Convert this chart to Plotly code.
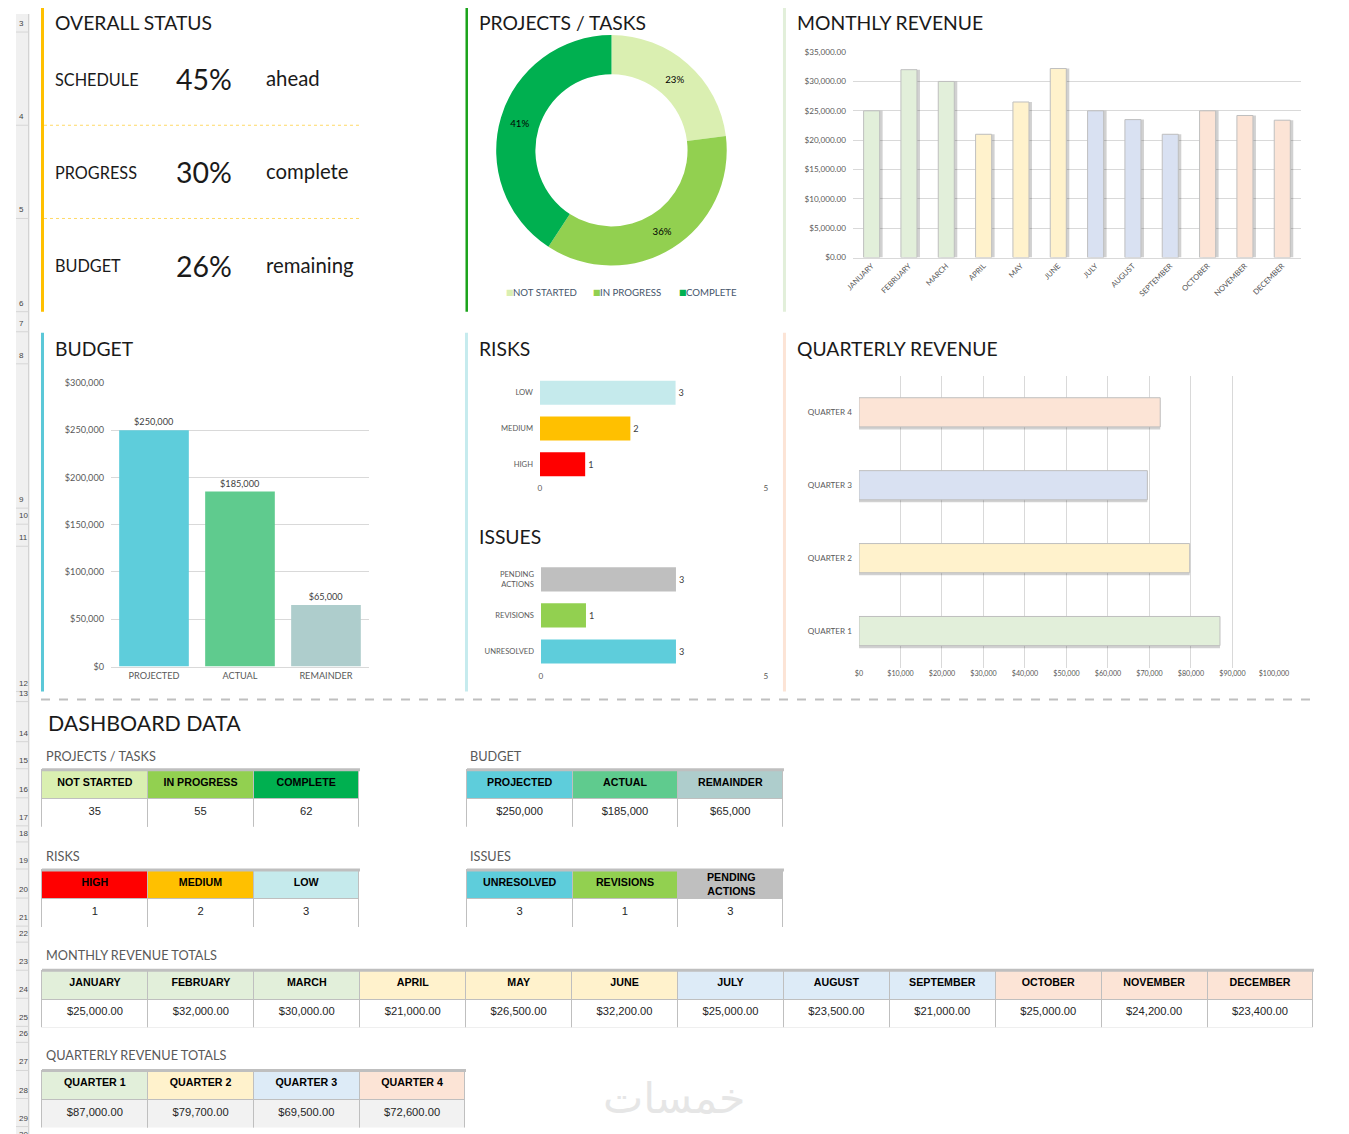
import plotly.graph_objects as go

W, H = 1349, 1134
# the page is photographed with a small offset and shrink; layout positions below
# are given in picture pixels and mapped back to figure space
AX, AY, SX, SY = 15.0, 14.0, 0.983, 0.988


def fx(x):
    return (x - AX) / SX / W


def fy(y):
    return 1 - (y - AY) / SY / H


def fs(size):
    return size / SX


# ---- data ----
status_labels = ["SCHEDULE", "PROGRESS", "BUDGET"]
status_values = ["45%", "30%", "26%"]
status_notes = ["ahead", "complete", "remaining"]

task_labels = ["NOT STARTED", "IN PROGRESS", "COMPLETE"]
task_counts = [35, 55, 62]

months = ["JANUARY", "FEBRUARY", "MARCH", "APRIL", "MAY", "JUNE",
          "JULY", "AUGUST", "SEPTEMBER", "OCTOBER", "NOVEMBER", "DECEMBER"]
month_revenue = [25000, 32000, 30000, 21000, 26500, 32200,
                 25000, 23500, 21000, 25000, 24200, 23400]

budget_labels = ["PROJECTED", "ACTUAL", "REMAINDER"]
budget_values = [250000, 185000, 65000]

risk_labels = ["HIGH", "MEDIUM", "LOW"]
risk_counts = [1, 2, 3]

issue_labels = ["UNRESOLVED", "REVISIONS", "PENDING ACTIONS"]
issue_counts = [3, 1, 3]

quarters = ["QUARTER 1", "QUARTER 2", "QUARTER 3", "QUARTER 4"]
quarter_revenue = [87000, 79700, 69500, 72600]

# ---- styles ----
task_colors = ["#DAEFB1", "#92D050", "#00B050"]
budget_colors = ["#5ECDDB", "#5FCB8E", "#AECDCC"]
risk_colors = ["#FF0000", "#FFC000", "#C5EAEC"]
issue_colors = ["#5ECDDB", "#92D050", "#BFBFBF"]
quarter_colors = ["#E2EFDA", "#FFF2CC", "#D9E1F2", "#FCE4D6"]
quarter_table_colors = ["#E2EFDA", "#FFF2CC", "#DDEBF7", "#FCE4D6"]
month_colors = [c for c in quarter_colors for _ in range(3)]
month_table_colors = [c for c in quarter_table_colors for _ in range(3)]

TITLE_FONT = "Lato"
TXT = "#1a1a1a"
TICK = "#595959"
GRID = "#D9D9D9"
SHADOW = "rgba(0,0,0,0.18)"

fig = go.Figure()

# monthly revenue
fig.add_trace(go.Bar(x=months, y=month_revenue, width=0.43, offset=-0.215 + 0.08,
                     marker=dict(color=SHADOW, line=dict(width=0)),
                     xaxis="x", yaxis="y", hoverinfo="skip", showlegend=False))
fig.add_trace(go.Bar(x=months, y=month_revenue, width=0.43,
                     marker=dict(color=month_colors, line=dict(color="#BFBFBF", width=1)),
                     xaxis="x", yaxis="y", showlegend=False))

# budget
fig.add_trace(go.Bar(x=budget_labels, y=budget_values, width=0.81,
                     marker=dict(color=budget_colors, line=dict(width=0)),
                     texttemplate="$%{y:,.0f}", textposition="outside",
                     textfont=dict(size=fs(9), color="#404040", family="Lato"),
                     cliponaxis=False, xaxis="x2", yaxis="y2", showlegend=False))

# risks
fig.add_trace(go.Bar(y=risk_labels, x=risk_counts, orientation="h", width=0.67,
                     marker=dict(color=risk_colors, line=dict(width=0)),
                     texttemplate="%{x}", textposition="outside",
                     textfont=dict(size=fs(9), color="#404040", family="Lato"),
                     cliponaxis=False, xaxis="x3", yaxis="y3", showlegend=False))

# issues
fig.add_trace(go.Bar(y=issue_labels, x=issue_counts, orientation="h", width=0.67,
                     marker=dict(color=issue_colors, line=dict(width=0)),
                     texttemplate="%{x}", textposition="outside",
                     textfont=dict(size=fs(9), color="#404040", family="Lato"),
                     cliponaxis=False, xaxis="x4", yaxis="y4", showlegend=False))

# quarterly revenue
fig.add_trace(go.Bar(y=quarters, x=quarter_revenue, orientation="h", width=0.4,
                     offset=-0.2 - 0.035,
                     marker=dict(color=SHADOW, line=dict(width=0)),
                     xaxis="x5", yaxis="y5", hoverinfo="skip", showlegend=False))
fig.add_trace(go.Bar(y=quarters, x=quarter_revenue, orientation="h", width=0.4,
                     marker=dict(color=quarter_colors, line=dict(color="#BFBFBF", width=1)),
                     xaxis="x5", yaxis="y5", showlegend=False))

# projects / tasks donut
fig.add_trace(go.Pie(labels=task_labels, values=task_counts, hole=0.66, sort=False,
                     direction="clockwise", rotation=0,
                     marker=dict(colors=task_colors, line=dict(width=0)),
                     texttemplate="%{percent:.0%}", textposition="inside",
                     insidetextorientation="horizontal",
                     textfont=dict(size=fs(9.5), color="#000000", family="Lato"),
                     domain=dict(x=[fx(495), fx(726)], y=[fy(265), fy(35)]),
                     showlegend=False))

# ---- tables ----
hdr_font = dict(family="Liberation Sans, Arial, sans-serif", size=fs(10.5),
                color="#000000", weight="bold")
cell_font = dict(family="Liberation Sans Narrow, Arial Narrow, sans-serif", size=fs(11),
                 color="#262626")
ann = []


def add_table(labels, values, fmt, hdr_colors, x0, x1, y0, y1, cell_bg="#FFFFFF"):
    n = len(labels)
    heads = []
    for i, lab in enumerate(labels):
        if lab == "PENDING ACTIONS":
            # two-line header would stretch the table row, so it is laid on top
            heads.append("")
            ann.append(dict(x=fx(x0 + (i + 0.5) * (x1 - x0) / n), y=fy(y0 + 14),
                            xref="paper", yref="paper", showarrow=False,
                            text=lab.replace(" ", "<br>"), xanchor="center",
                            yanchor="middle", font=dict(hdr_font, size=fs(10.5))))
        else:
            heads.append(lab)
    row_h = (y1 - y0) / 2 / SY
    fig.add_trace(go.Table(
        domain=dict(x=[fx(x0), fx(x1)], y=[fy(y1), fy(y0)]),
        header=dict(values=heads, fill_color=hdr_colors, line_color="#BFBFBF",
                    align="center", font=hdr_font, height=row_h),
        cells=dict(values=[[v] for v in values], format=[fmt] * n,
                   fill_color=cell_bg, line_color="#BFBFBF", align="center",
                   font=cell_font, height=row_h),
    ))
    fig.add_shape(type="line", xref="paper", yref="paper", x0=fx(x0), x1=fx(x1),
                  y0=fy(y0), y1=fy(y0), line=dict(color="#BFBFBF", width=3))


add_table(task_labels, task_counts, "", task_colors, 41, 359, 768, 825)
add_table(budget_labels, budget_values, "$,.0f", budget_colors, 466, 783, 768, 825)
add_table(risk_labels, risk_counts, "", risk_colors, 41, 359, 868, 925)
add_table(issue_labels, issue_counts, "", issue_colors, 466, 783, 868, 925)
add_table(months, month_revenue, "$,.2f", month_table_colors, 41, 1313, 968, 1025)
add_table(quarters, quarter_revenue, "$,.2f", quarter_table_colors, 41, 465, 1068, 1125,
          cell_bg="#F2F2F2")


# ---- annotations ----
def text(x, y, s, size, color=TXT, anchor="left", family=TITLE_FONT):
    ann.append(dict(x=fx(x), y=fy(y), xref="paper", yref="paper", text=s,
                    showarrow=False, xanchor=anchor, yanchor="middle",
                    font=dict(size=fs(size), color=color, family=family)))


for t, (x, y) in {"OVERALL STATUS": (52, 22), "PROJECTS / TASKS": (476, 22),
                  "MONTHLY REVENUE": (794, 22), "BUDGET": (52, 348),
                  "RISKS": (476, 348), "ISSUES": (476, 535),
                  "QUARTERLY REVENUE": (794, 348)}.items():
    text(x, y, t, 19)

for i, (lab, val, note) in enumerate(zip(status_labels, status_values, status_notes)):
    yy = 79 + i * 93
    text(52, yy, lab, 16)
    text(173, yy, val, 28)
    text(263, yy - 1, note, 20)

for lab, col, xs in zip(task_labels, task_colors, [503, 590, 676]):
    text(xs, 291, "■", 8, color=col, family="DejaVu Sans")
    text(xs + 7, 291, lab, 9.5, color="#44546A")

text(45, 721, "DASHBOARD DATA", 21)
for t, (x, y) in {"PROJECTS / TASKS": (43, 754), "BUDGET ": (467, 754),
                  "RISKS": (43, 854), "ISSUES": (467, 854),
                  "MONTHLY REVENUE TOTALS": (43, 953),
                  "QUARTERLY REVENUE TOTALS": (43, 1053)}.items():
    text(x, y, t.strip(), 12.5, color="#595959")

text(673, 1095, "خمسات", 42, color="#E6E6E6", anchor="center", family="DejaVu Sans")

# row header gutter (drawn at the figure's own left edge)
row_bottoms = {3: 32, 4: 125, 5: 218, 6: 311, 7: 331, 8: 363, 9: 507, 10: 523,
               11: 545, 12: 690, 13: 700, 14: 740, 15: 767, 16: 796, 17: 824,
               18: 840, 19: 867, 20: 896, 21: 924, 22: 940, 23: 968, 24: 996,
               25: 1024, 26: 1040, 27: 1068, 28: 1096, 29: 1124, 30: 1140}
GUT = 13 / W

shapes = [dict(type="rect", xref="paper", yref="paper", x0=0, x1=GUT, y0=0, y1=1,
               fillcolor="#F0F0F0", line=dict(width=0), layer="below"),
          dict(type="line", xref="paper", yref="paper", x0=GUT, x1=GUT, y0=0, y1=1,
               line=dict(color="#C8C8C8", width=1)),
          dict(type="rect", xref="paper", yref="paper", x0=fx(1341), x1=1, y0=0, y1=1,
               fillcolor="#F3F3F3", line=dict(width=0), layer="below")]
for r, b in row_bottoms.items():
    shapes.append(dict(type="line", xref="paper", yref="paper", x0=0, x1=GUT,
                       y0=fy(b), y1=fy(b), line=dict(color="#D6D6D6", width=1)))
    ann.append(dict(x=1 / W, y=fy(b - 2), xref="paper", yref="paper", text=str(r),
                    showarrow=False, xanchor="left", yanchor="bottom",
                    font=dict(size=8, color="#444444", family="Liberation Sans")))

# panel accent bars
for x0, x1, y0, y1, c in [(40, 43, -20, 311, "#FFC000"), (464.5, 467, -20, 311, "#1AA31A"),
                          (782, 785, -20, 311, "#E2EFDA"), (40, 43, 332, 690, "#5BC8D8"),
                          (464, 467, 332, 690, "#C6EBEE"), (782, 785, 332, 690, "#FCE4D6")]:
    shapes.append(dict(type="rect", xref="paper", yref="paper", x0=fx(x0), x1=fx(x1),
                       y0=fy(y1), y1=fy(y0), fillcolor=c, line=dict(width=0)))

for yy in [125, 218]:
    shapes.append(dict(type="line", xref="paper", yref="paper", x0=fx(43), x1=fx(360),
                       y0=fy(yy), y1=fy(yy), line=dict(color="#FFD966", width=1, dash="dot")))

shapes.append(dict(type="line", xref="paper", yref="paper", x0=fx(40), x1=fx(1313),
                   y0=fy(698), y1=fy(698), line=dict(color="#BFBFBF", width=2, dash="dash")))


def tf(size):
    return dict(size=fs(size), color=TICK, family="Lato")


common = dict(ticks="", zeroline=False, fixedrange=True)

fig.update_layout(
    width=W, height=H, margin=dict(l=0, r=0, t=0, b=0),
    paper_bgcolor="white", plot_bgcolor="white", barmode="overlay",
    annotations=ann, shapes=list(fig.layout.shapes) + shapes,
    xaxis=dict(domain=[fx(852), fx(1300)], anchor="y", tickangle=-45, showgrid=False,
               showline=True, linecolor=GRID, tickfont=tf(7.5), **common),
    yaxis=dict(domain=[fy(257), fy(52)], anchor="x", range=[0, 35000], dtick=5000,
               tickformat="$,.2f", gridcolor=GRID, ticklabelstandoff=6,
               tickfont=tf(8), **common),
    xaxis2=dict(domain=[fx(110), fx(368)], anchor="y2", showgrid=False, showline=True,
                linecolor=GRID, tickfont=tf(9), **common),
    yaxis2=dict(domain=[fy(665), fy(382)], anchor="x2", range=[0, 300000], dtick=50000,
                tickformat="$,.0f", gridcolor=GRID, ticklabelstandoff=6,
                tickfont=tf(9), **common),
    xaxis3=dict(domain=[fx(539), fx(765)], anchor="y3", range=[0, 5], dtick=5,
                gridcolor=GRID, tickfont=tf(8), **common),
    yaxis3=dict(domain=[fy(481), fy(374)], anchor="x3", showgrid=False,
                ticklabelstandoff=6, tickfont=tf(7.5), **common),
    xaxis4=dict(domain=[fx(540), fx(765)], anchor="y4", range=[0, 5], dtick=5,
                gridcolor=GRID, tickfont=tf(8), **common),
    yaxis4=dict(domain=[fy(668), fy(560)], anchor="x4", showgrid=False,
                tickvals=issue_labels,
                ticktext=[lab.replace(" ACTIONS", "<br>ACTIONS") for lab in issue_labels],
                ticklabelstandoff=6, tickfont=tf(7.5), **common),
    xaxis5=dict(domain=[fx(858), fx(1273)], anchor="y5", range=[0, 100000], dtick=10000,
                tickformat="$,.0f", gridcolor=GRID, showline=False,
                tickfont=tf(7), **common),
    yaxis5=dict(domain=[fy(666), fy(375)], anchor="x5", showgrid=False,
                ticklabelstandoff=6, tickfont=tf(8), **common),
)

fig.write_html("out.html")
